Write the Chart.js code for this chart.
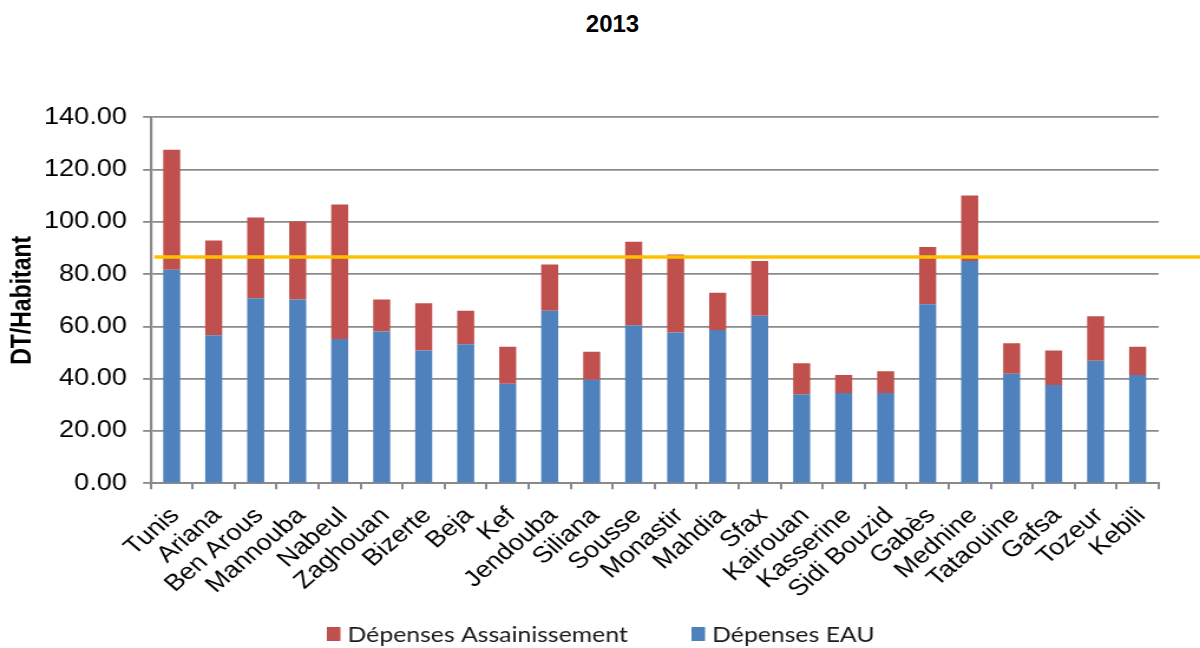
<!DOCTYPE html>
<html>
<head>
<meta charset="utf-8">
<script src="https://cdn.jsdelivr.net/npm/chart.js@4/dist/chart.umd.min.js"></script>
<style>
  html, body { margin: 0; padding: 0; background: #ffffff; }
  body { width: 1200px; height: 648px; position: relative; overflow: hidden; }
  #heading {
    position: absolute; left: 0; top: 12px; width: 1225px;
    text-align: center; font: bold 24px "Liberation Sans", Arial, sans-serif;
    line-height: 24px; color: #000;
  }
  /* the chart is laid out on a 1017px wide canvas and widened to the full page */
  #wrap {
    position: absolute; left: 0; top: 0; width: 1017px; height: 648px;
    transform: scaleX(1.18); transform-origin: 0 0;
  }
</style>
</head>
<body>
<div id="heading">2013</div>
<div id="wrap"><canvas id="chart"></canvas></div>
<script>
// Gouvernorats
const categories = ['Tunis', 'Ariana', 'Ben Arous', 'Mannouba', 'Nabeul', 'Zaghouan', 'Bizerte', 'Beja',
  'Kef', 'Jendouba', 'Siliana', 'Sousse', 'Monastir', 'Mahdia', 'Sfax', 'Kairouan', 'Kasserine',
  'Sidi Bouzid', 'Gabès', 'Mednine', 'Tataouine', 'Gafsa', 'Tozeur', 'Kebili'];

// Dépenses par habitant (DT/Habitant)
const depensesEau = [81.7, 56.6, 70.8, 70.3, 55.2, 58.1, 50.8, 53.2, 38.1, 66.0, 39.6, 60.5,
  57.7, 58.6, 64.1, 34.1, 34.5, 34.5, 68.5, 85.0, 41.9, 37.6, 46.9, 41.4];
const depensesAssainissement = [45.9, 36.3, 30.9, 29.8, 51.4, 12.2, 18.1, 12.8, 14.1, 17.7, 10.7, 31.9,
  29.8, 14.3, 20.9, 11.8, 6.9, 8.4, 21.9, 25.1, 11.7, 13.2, 17.0, 10.8];

// Moyenne nationale (ligne de référence)
const moyenneNationale = 86.6;

// Axe vertical
const yTicks = [0, 20, 40, 60, 80, 100, 120, 140];

const AXIS_GREY = '#8a8a8a';
const ARIAL = '"Liberation Sans", Arial, sans-serif';

// horizontal reference line for the national average, drawn over the bars
const averageLine = {
  id: 'averageLine',
  afterDatasetsDraw(chart) {
    const { ctx, chartArea, scales } = chart;
    const y = scales.y.getPixelForValue(moyenneNationale);
    ctx.save();
    ctx.strokeStyle = '#FFC000';
    ctx.lineWidth = 3.5;
    ctx.beginPath();
    ctx.moveTo(chartArea.left + 3, y);
    ctx.lineTo(chart.width, y);
    ctx.stroke();
    ctx.restore();
  }
};

// legend row under the axis labels
const bottomLegend = {
  id: 'bottomLegend',
  afterDraw(chart) {
    const ctx = chart.ctx;
    const items = chart.data.datasets.slice().reverse();
    const box = 11.5, boxH = 14, gap = 6, spacing = 54;
    ctx.save();
    ctx.font = '21px Lato, "Open Sans", sans-serif';
    ctx.textBaseline = 'middle';
    ctx.textAlign = 'left';
    let x = 277;
    const y = 634;
    items.forEach(d => {
      ctx.fillStyle = d.backgroundColor;
      ctx.fillRect(x, y - boxH / 2, box, boxH);
      ctx.fillStyle = '#1a1a1a';
      ctx.fillText(d.label, x + box + gap, y + 1);
      x += box + gap + ctx.measureText(d.label).width + spacing;
    });
    ctx.restore();
  }
};

new Chart(document.getElementById('chart'), {
  type: 'bar',
  data: {
    labels: categories,
    datasets: [
      { label: 'Dépenses EAU', data: depensesEau, backgroundColor: '#4F81BD',
        categoryPercentage: 0.81, barPercentage: 0.5 },
      { label: 'Dépenses Assainissement', data: depensesAssainissement, backgroundColor: '#C0504D',
        categoryPercentage: 0.81, barPercentage: 0.5 }
    ]
  },
  options: {
    responsive: true,
    maintainAspectRatio: false,
    animation: false,
    layout: { padding: { top: 117.3, right: 35.1, bottom: 14.7, left: 0 } },
    plugins: {
      legend: { display: false },
      title: { display: false },
      tooltip: { enabled: false }
    },
    scales: {
      x: {
        stacked: true,
        afterFit(scale) { scale.height = 150; },
        grid: { drawOnChartArea: false, drawTicks: true, tickLength: 6, color: AXIS_GREY, lineWidth: 2, offset: true },
        border: { color: AXIS_GREY, width: 2 },
        ticks: {
          autoSkip: false, minRotation: 45, maxRotation: 45, padding: 13, labelOffset: 3,
          color: '#000', font: { family: ARIAL, size: 23 }
        }
      },
      y: {
        stacked: true,
        min: 0, max: 140,
        afterFit(scale) { scale.width = 127.7; },
        afterBuildTicks(scale) { scale.ticks = yTicks.map(v => ({ value: v })); },
        grid: { color: AXIS_GREY, lineWidth: 1.8, tickLength: 6.5 },
        border: { color: AXIS_GREY, width: 2.2 },
        ticks: {
          padding: 13.6, color: '#000', font: { family: ARIAL, size: 23 },
          callback: v => Number(v).toFixed(2)
        },
        title: {
          display: true, text: 'DT/Habitant', color: '#000',
          font: { family: ARIAL, size: 23, weight: 'bold' },
          padding: { top: 5.7, bottom: 0 }
        }
      }
    }
  },
  plugins: [averageLine, bottomLegend]
});
</script>
</body>
</html>
